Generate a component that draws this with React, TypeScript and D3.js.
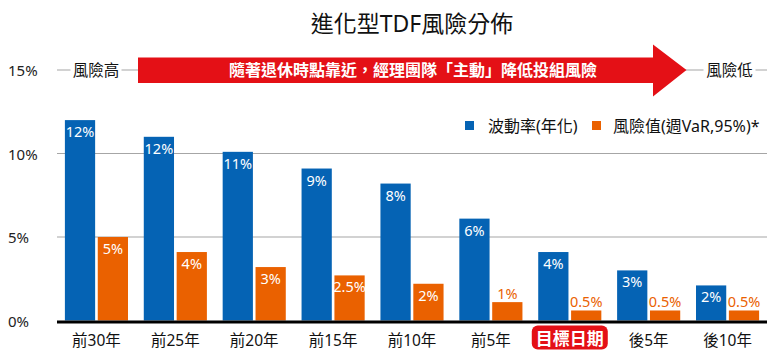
import React from "react";
import * as d3 from "d3";

const categories = ["前30年", "前25年", "前20年", "前15年", "前10年", "前5年", "目標日期", "後5年", "後10年"];
const volatility = [12.0, 11.0, 10.1, 9.1, 8.2, 6.1, 4.1, 3.0, 2.1];
const volLabels = ["12%", "12%", "11%", "9%", "8%", "6%", "4%", "3%", "2%"];
const varValues = [5.0, 4.1, 3.2, 2.7, 2.2, 1.1, 0.6, 0.6, 0.6];
const varLabels = ["5%", "4%", "3%", "2.5%", "2%", "1%", "0.5%", "0.5%", "0.5%"];
const yTicks = [0, 5, 10, 15];
const seriesNames = ["波動率(年化)", "風險值(週VaR,95%)*"];
const title = "進化型TDF風險分佈";
const arrowText = "隨著退休時點靠近，經理團隊「主動」降低投組風險";
const highLabel = "風險高";
const lowLabel = "風險低";
const highlightCategory = "目標日期";

const W = 780;
const H = 360;
const BLUE = "#0563b4";
const ORANGE = "#ea6100";
const RED = "#e41016";
const FONT = "'Noto Sans', 'Noto Sans CJK TC', sans-serif";

export default function App() {
  const x = d3.scaleBand<string>().domain(categories).range([57, 767]).paddingInner(0.2).paddingOuter(0.1);
  const sub = d3.scaleBand<string>().domain(["vol", "var"]).range([0, x.bandwidth()]).paddingInner(0.08);
  const y = d3.scaleLinear().domain([0, 15]).range([320.5, 70]);
  const bw = sub.bandwidth();
  const y15 = y(15);

  return (
    <div style={{ margin: -8, width: W, height: H }}>
      <svg width={W} height={H} style={{ display: "block", fontFamily: FONT }}>
        <rect width={W} height={H} fill="#fff" />
        <text x={412} y={23} textAnchor="middle" dominantBaseline="central" fontSize={23} fill="#111">{title}</text>

        {yTicks.map((t) => (
          <g key={t}>
            {t > 0 && <line x1={57} x2={767} y1={y(t)} y2={y(t)} stroke="#a6a6a6" strokeWidth={1.2} />}
            <text x={8} y={y(t)} dominantBaseline="central" fontSize={15} fill="#222">{t}%</text>
          </g>
        ))}

        {/* top arrow row */}
        <rect x={70.5} y={y15 - 10} width={51} height={20} fill="#fff" />
        <text x={96} y={y15} textAnchor="middle" dominantBaseline="central" fontSize={15.5} fill="#111">{highLabel}</text>
        <rect x={703.5} y={y15 - 10} width={52} height={20} fill="#fff" />
        <text x={729.5} y={y15} textAnchor="middle" dominantBaseline="central" fontSize={15.5} fill="#111">{lowLabel}</text>
        <polygon
          points={`138,${y15 - 12.5} 653,${y15 - 12.5} 653,${y15 - 25.5} 686.5,${y15} 653,${y15 + 26.5} 653,${y15 + 13} 138,${y15 + 13}`}
          fill={RED}
        />
        <text x={413} y={y15} textAnchor="middle" dominantBaseline="central" fontSize={16} fontWeight={700} fill="#fff">{arrowText}</text>

        {/* legend */}
        <rect x={465} y={121} width={9} height={9} fill={BLUE} />
        <text x={488} y={125.5} dominantBaseline="central" fontSize={16} fill="#111">{seriesNames[0]}</text>
        <rect x={592} y={121} width={9} height={9} fill={ORANGE} />
        <text x={613} y={125.5} dominantBaseline="central" fontSize={16} fill="#111">{seriesNames[1]}</text>

        {categories.map((c, i) => {
          const gx = x(c)!;
          const bx = gx + sub("vol")!;
          const ox = gx + sub("var")!;
          const by = y(volatility[i]);
          const oy = y(varValues[i]);
          const oh = y(0) - oy;
          const inside = oh > 24;
          return (
            <g key={c}>
              <rect x={bx} y={by} width={bw} height={y(0) - by} fill={BLUE} />
              <rect x={ox} y={oy} width={bw} height={oh} fill={ORANGE} />
              <text x={bx + bw / 2} y={by + 11} textAnchor="middle" dominantBaseline="central" fontSize={14.5} fill="#fff">{volLabels[i]}</text>
              <text
                x={ox + bw / 2}
                y={inside ? oy + 11 : oy - 9}
                textAnchor="middle"
                dominantBaseline="central"
                fontSize={14.5}
                fill={inside ? "#fff" : ORANGE}
              >
                {varLabels[i]}
              </text>
              {c === highlightCategory ? (
                <g>
                  <rect x={gx + x.bandwidth() / 2 - 38} y={325.5} width={76} height={24} rx={6} fill={RED} />
                  <text x={gx + x.bandwidth() / 2} y={338} textAnchor="middle" dominantBaseline="central" fontSize={17} fontWeight={700} fill="#fff">{c}</text>
                </g>
              ) : (
                <text x={gx + x.bandwidth() / 2} y={339.5} textAnchor="middle" dominantBaseline="central" fontSize={15.5} fill="#111">{c}</text>
              )}
            </g>
          );
        })}

        <line x1={57} x2={767} y1={322} y2={322} stroke="#000" strokeWidth={3} />
      </svg>
    </div>
  );
}
